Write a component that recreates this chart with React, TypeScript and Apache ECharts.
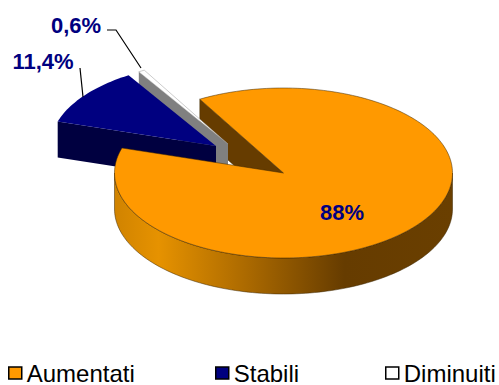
import React, { useEffect, useRef } from "react";
import * as echarts from "echarts";

const sliceNames = ["Aumentati", "Stabili", "Diminuiti"];
const sliceValues = [88, 11.4, 0.6];
const sliceLabels = ["88%", "11,4%", "0,6%"];
const topColors = ["#FF9900", "#000080", "#FFFFFF"];
const cutColors = ["#663C00", "#000040", "#808080"];

const START = -29.7, RX = 169, RY = 85, DEPTH = 36;
const apexes = [[283.5, 173], [216, 146], [228, 144]];
const radii = [1, 0.98, 1];
const FONT = '"Liberation Sans", Arial, sans-serif';
const NAVY = "#000080";

function ranges() {
  let a = START;
  return sliceValues.map((v) => {
    const s = a;
    a += v * 3.6;
    return [s, a];
  });
}
function pt(i: number, deg: number, dz = 0) {
  const r = (deg * Math.PI) / 180;
  return [
    apexes[i][0] + RX * radii[i] * Math.sin(r),
    apexes[i][1] - RY * radii[i] * Math.cos(r) + dz,
  ];
}
function arc(i: number, a: number, b: number, dz = 0) {
  const n = Math.max(2, Math.ceil(Math.abs(b - a) / 1.5));
  const out: number[][] = [];
  for (let k = 0; k <= n; k++) out.push(pt(i, a + ((b - a) * k) / n, dz));
  return out;
}
function cutFace(i: number) {
  const [s] = ranges()[i];
  const [ax, ay] = apexes[i];
  const o = pt(i, s);
  return {
    type: "polygon",
    shape: { points: [o, [ax, ay], [ax, ay + DEPTH], [o[0], o[1] + DEPTH]] },
    style: { fill: cutColors[i], stroke: i === 0 ? "#3a2500" : "none", lineWidth: 0.4 },
  };
}
function topFace(i: number) {
  const [s, e] = ranges()[i];
  return {
    type: "polygon",
    shape: { points: [apexes[i], ...arc(i, s, e)] },
    style: {
      fill: topColors[i],
      stroke: i === 0 ? "#3a2500" : i === 2 ? "#999999" : "none",
      lineWidth: i === 1 ? 0 : 0.5,
    },
  };
}
function frontWall(i: number) {
  const [s, e] = ranges()[i];
  const a = Math.max(s, 90), b = Math.min(e, 270);
  if (b <= a) return null;
  return {
    type: "polygon",
    shape: { points: [...arc(i, a, b), ...arc(i, b, a, DEPTH)] },
    style: {
      fill: new echarts.graphic.LinearGradient(0, 0, 1, 0, [
        { offset: 0, color: "#D08300" },
        { offset: 0.13, color: "#E69200" },
        { offset: 0.4, color: "#A96800" },
        { offset: 0.68, color: "#663C00" },
        { offset: 1, color: "#6A3F00" },
      ]),
      stroke: "#3a2500",
      lineWidth: 0.5,
    },
  };
}
function label(text: string, x: number, y: number) {
  return {
    type: "text",
    style: { text, x, y, fill: NAVY, font: `bold 22px ${FONT}`, textAlign: "center", textVerticalAlign: "middle" },
  };
}
function leader(points: number[][]) {
  return { type: "polyline", shape: { points }, style: { stroke: "#000", lineWidth: 1.2, fill: "none" } };
}
function layer(name: string, z: number, children: () => any[]) {
  return {
    type: "custom",
    name,
    z,
    silent: true,
    clip: false,
    coordinateSystem: "none",
    data: [0],
    renderItem: () => ({ type: "group", children: children().filter(Boolean) }),
  };
}
function legendFor(i: number, left: number) {
  return {
    left,
    top: 361,
    padding: 0,
    selectedMode: false,
    itemWidth: 13,
    itemHeight: 12,
    textStyle: { fontFamily: FONT, fontSize: 24, color: "#000", padding: 0 },
    data: [{ name: sliceNames[i], icon: "rect", itemStyle: { color: i === 2 ? "#FFFFFF" : topColors[i], borderColor: "#000", borderWidth: 1.5 } }],
  };
}

export default function App() {
  const ref = useRef<HTMLDivElement>(null);
  useEffect(() => {
    document.body.style.margin = "0";
    const chart = echarts.init(ref.current!, null, { renderer: "svg" });
    chart.setOption({
      animation: false,
      backgroundColor: "#fff",
      legend: [legendFor(0, 8), legendFor(1, 215), legendFor(2, 385)],
      series: [
        layer(sliceNames[0], 1, () => [cutFace(0)]),
        layer(sliceNames[2], 2, () => [
          cutFace(2),
          topFace(2),
          leader([[107, 30], [116, 30], [141, 68]]),
          label(sliceLabels[2], 76, 25),
        ]),
        layer(sliceNames[1], 3, () => [
          cutFace(1),
          topFace(1),
          leader([[80, 68], [83, 97]]),
          label(sliceLabels[1], 43, 61),
        ]),
        layer(sliceNames[0], 4, () => [frontWall(0), topFace(0), label(sliceLabels[0], 342, 212)]),
      ],
    });
    return () => chart.dispose();
  }, []);
  return <div ref={ref} style={{ position: "absolute", left: 0, top: 0, width: 499, height: 385 }} />;
}
